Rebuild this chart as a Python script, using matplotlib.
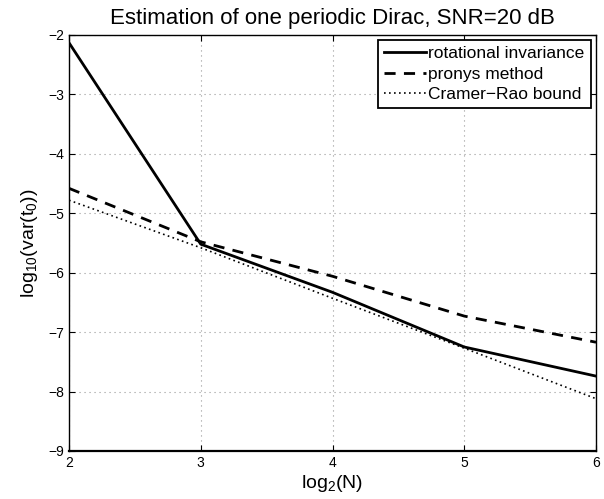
import matplotlib.pyplot as plt
import numpy as np

plt.rcParams['font.family'] = ['Liberation Sans', 'DejaVu Sans']
plt.rcParams['mathtext.fontset'] = 'custom'
plt.rcParams['mathtext.rm'] = 'Liberation Sans'

# data
log2_n = [2, 3, 4, 5, 6]
rot_inv = [-2.13, -5.52, -6.33, -7.25, -7.74]
prony = [-4.58, -5.48, -6.06, -6.73, -7.17]
crb = [-4.78, -5.58, -6.43, -7.27, -8.12]

fig = plt.figure(figsize=(6.04, 4.99), dpi=100)
ax = fig.add_axes([0.1142, 0.0962, 0.8726, 0.8337])

ax.plot(log2_n, rot_inv, color='black', lw=2, label='rotational invariance')
ax.plot(log2_n, prony, color='black', lw=2, ls=(0, (4, 3)), label='pronys method')
ax.plot(log2_n, crb, color='black', lw=1.2, ls=(0, (1, 2)), label='Cramer\u2212Rao bound')

ax.set_xlim(2, 6)
ax.set_ylim(-9, -2)
ax.set_xticks([2, 3, 4, 5, 6])
ax.set_yticks(np.arange(-9, -1, 1))
ax.grid(True, color='#999999', ls=(0, (1, 3.5)), lw=0.8)
ax.tick_params(direction='in', top=True, right=True, labelsize=10, length=4, width=0.8)

for s in ax.spines.values():
    s.set_linewidth(1.0)
ax.spines['bottom'].set_linewidth(1.6)

ax.set_title('Estimation of one periodic Dirac, SNR=20 dB', fontsize=16, pad=8)
ax.set_xlabel(r'log$_2$(N)', fontsize=14, labelpad=2)
ax.set_ylabel(r'log$_{10}$(var(t$_0$))', fontsize=14, labelpad=6)

leg = ax.legend(loc='upper right', fontsize=12.5, handlelength=2.4, handletextpad=0.15,
                borderpad=0.35, labelspacing=0.3, fancybox=False, framealpha=1,
                borderaxespad=0.3)
leg.get_frame().set_edgecolor('black')
leg.get_frame().set_linewidth(1.3)

fig.savefig('out.png', dpi=100)
